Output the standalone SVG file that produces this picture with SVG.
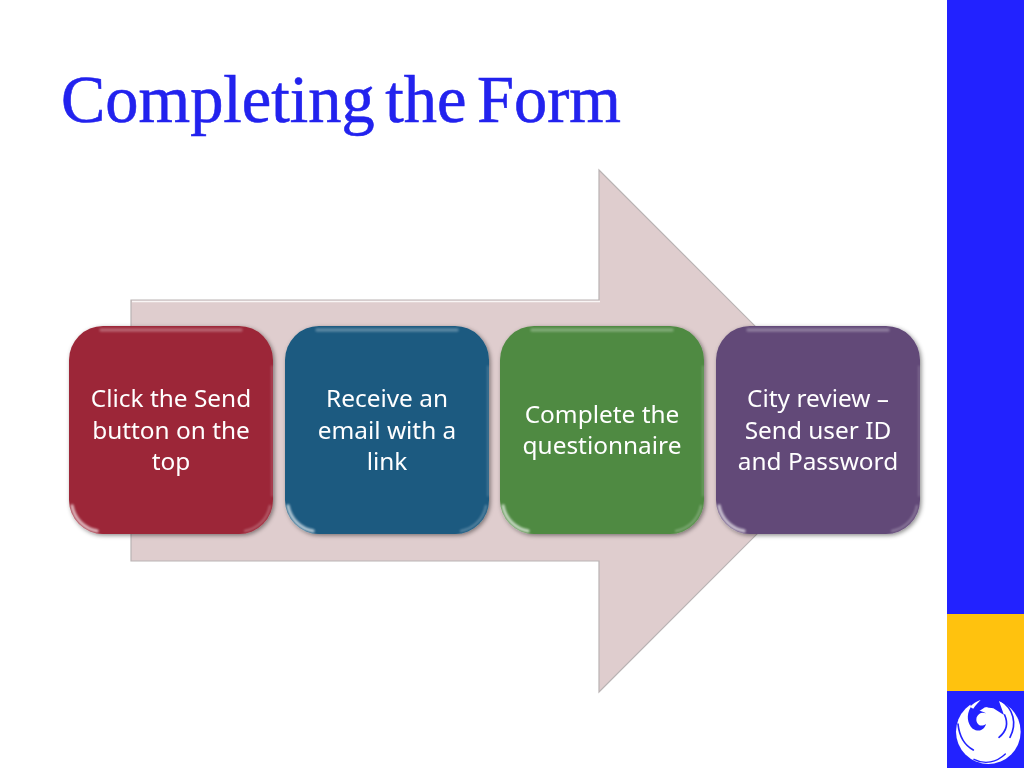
<svg xmlns="http://www.w3.org/2000/svg" width="1024" height="768" viewBox="0 0 1024 768">
<defs>
<style>
.lbl{font-family:"Noto Sans","Liberation Sans",sans-serif;font-size:24.4px;fill:#fff;text-anchor:middle}
.hi{fill:none;stroke:#fff;stroke-linecap:round}
.cut{fill:none;stroke:#2222ff;stroke-linecap:round}
</style>
<filter id="sh" x="-10%" y="-10%" width="125%" height="125%"><feDropShadow dx="1.5" dy="1.5" stdDeviation="2" flood-color="#000" flood-opacity="0.45"/></filter>
<filter id="bl" x="-10%" y="-10%" width="120%" height="120%"><feGaussianBlur stdDeviation="1"/></filter>
<g id="bevel" filter="url(#bl)">
<path class="hi" d="M32 4H172" stroke-width="3.500" opacity="0.28"/>
<path class="hi" d="M3 180A31 31 0 0 0 28 205" stroke-width="3.500" opacity="0.65"/>
<path class="hi" d="M201 180A31 31 0 0 1 176 205" stroke-width="2.500" opacity="0.25"/>
<path class="hi" d="M203 40V170" stroke-width="1.200" opacity="0.3"/>
</g>
</defs>
<rect width="1024" height="768" fill="#fff"/>
<g id="sidebar">
<rect x="947" y="0" width="77" height="614" fill="#2222ff"/>
<rect x="947" y="614" width="77" height="77" fill="#ffc20e"/>
<rect x="947" y="691" width="77" height="77" fill="#2222ff"/>
</g>
<g id="logo" transform="translate(930 600) scale(0.3333)">
<circle cx="175" cy="395" r="97" fill="#fff"/>
<path d="M150 296Q175 290 205 298L222 345L190 325L165 322L130 345L120 310Z" fill="#2222ff"/>
<path d="M152 300C118 310 98 345 112 385C116 350 125 325 152 300Z" fill="#fff"/>
<path d="M122 322C108 345 112 372 128 386C150 400 165 385 168 372C150 385 135 370 140 352C145 340 155 335 168 340C152 330 135 332 122 322Z" fill="#2222ff"/>
<path d="M160 328L170 322L198 335L222 347L212 354L218 395L205 412C212 385 200 350 160 328Z" fill="#fff"/>
<path class="cut" d="M212 302C250 325 262 370 240 412" stroke-width="5"/>
<path class="cut" d="M224 345C236 372 228 395 207 412" stroke-width="5"/>
<path class="cut" d="M84 372C88 410 104 436 130 450" stroke-width="5"/>
<path class="cut" d="M132 478C165 495 200 487 226 462" stroke-width="4"/>
</g>
<text id="title" x="61" y="122" font-family="'Liberation Serif',serif" font-size="67" fill="#2222ee" stroke="#2222ee" stroke-width="0.6" word-spacing="-6" textLength="560" lengthAdjust="spacingAndGlyphs">Completing the Form</text>
<g id="connectors">
<path d="M131 300H599V170L860 431L599 692V561H131Z" fill="#dfcdce" stroke="#b9b3b4" stroke-width="1.200"/>
<path d="M132 301.500H600" stroke="#fff" stroke-width="1.500" fill="none" opacity="0.8"/>
</g>
<g id="node1">
<rect x="69" y="326" width="204" height="208" rx="34" fill="#9c2737" filter="url(#sh)"/>
<use href="#bevel" x="69" y="326"/>
<text class="lbl" x="171" y="407">Click the Send</text><text class="lbl" x="171" y="438.500">button on the</text><text class="lbl" x="171" y="469.500">top</text>
</g>
<g id="node2">
<rect x="285" y="326" width="204" height="208" rx="34" fill="#1a5a80" filter="url(#sh)"/>
<use href="#bevel" x="285" y="326"/>
<text class="lbl" x="387" y="407">Receive an</text><text class="lbl" x="387" y="438.500">email with a</text><text class="lbl" x="387" y="469.500">link</text>
</g>
<g id="node3">
<rect x="500" y="326" width="204" height="208" rx="34" fill="#4f8a42" filter="url(#sh)"/>
<use href="#bevel" x="500" y="326"/>
<text class="lbl" x="602" y="423">Complete the</text><text class="lbl" x="602" y="454">questionnaire</text>
</g>
<g id="node4">
<rect x="716" y="326" width="204" height="208" rx="34" fill="#624a78" filter="url(#sh)"/>
<use href="#bevel" x="716" y="326"/>
<text class="lbl" x="818" y="407">City review –</text><text class="lbl" x="818" y="438.500">Send user ID</text><text class="lbl" x="818" y="469.500">and Password</text>
</g>
</svg>
